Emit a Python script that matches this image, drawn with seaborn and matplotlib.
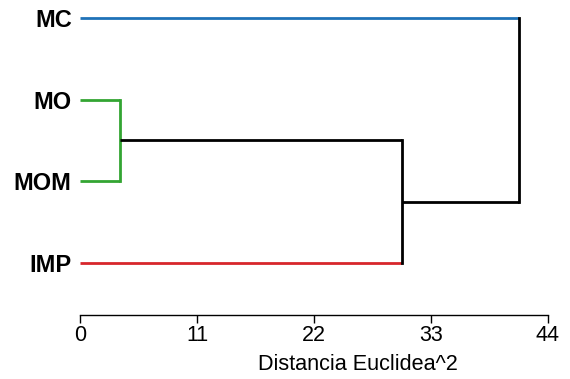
import matplotlib
matplotlib.use("Agg")
import matplotlib.pyplot as plt
import seaborn as sns

# leaves of the dendrogram, top to bottom
leaves = ["MC", "MO", "MOM", "IMP"]
leaf_colors = ["#1f72b8", "#33a532", "#33a532", "#d7262b"]

# merges, scipy style: ids >= len(leaves) refer to earlier merges
merge_a = [1, 4, 0]
merge_b = [2, 3, 5]
merge_dist = [3.8, 30.3, 41.3]
merge_colors = ["#33a532", "black", "black"]

x_ticks = [0, 11, 22, 33, 44]
x_label = "Distancia Euclidea^2"

sns.set_style("ticks")
plt.rcParams['font.family'] = ['Liberation Sans', 'DejaVu Sans']
plt.rcParams['text.color'] = 'black'

W, H = 570, 379
fig = plt.figure(figsize=(W / 100, H / 100), dpi=100)
ax = fig.add_axes([80 / W, (H - 315) / H, 468 / W, 310 / H])

n = len(leaves)
ypos = [float(n - 1 - i) for i in range(n)]
xpos = [0.0] * n
lw = 2.0
for a, b, d, c in zip(merge_a, merge_b, merge_dist, merge_colors):
    for child in (a, b):
        col = leaf_colors[child] if child < n else c
        ax.plot([xpos[child], d], [ypos[child], ypos[child]], color=col, lw=lw,
                solid_capstyle='butt', clip_on=False)
    ax.plot([d, d], [ypos[a], ypos[b]], color=c, lw=lw,
            solid_capstyle='projecting', clip_on=False)
    xpos.append(d)
    ypos.append((ypos[a] + ypos[b]) / 2)

ax.set_xlim(0, 44)
ax.set_ylim(-0.637, 3.159)

ax.set_yticks(ypos[:n])
ax.set_yticklabels(leaves, fontweight='bold', fontsize=17)
ax.tick_params(axis='y', length=0, pad=6, colors='black')

ax.set_xticks(x_ticks)
ax.set_xticklabels([str(t) for t in x_ticks], fontsize=15.5)
ax.tick_params(axis='x', length=5.8, width=1, pad=1.5, colors='black')

sns.despine(ax=ax, left=True)
ax.spines['bottom'].set_linewidth(1)
ax.spines['bottom'].set_color('black')

fig.text(357.5 / W, 9 / H, x_label, ha='center', va='baseline', fontsize=15.6,
         color='black')

fig.savefig("out.png", dpi=100)
